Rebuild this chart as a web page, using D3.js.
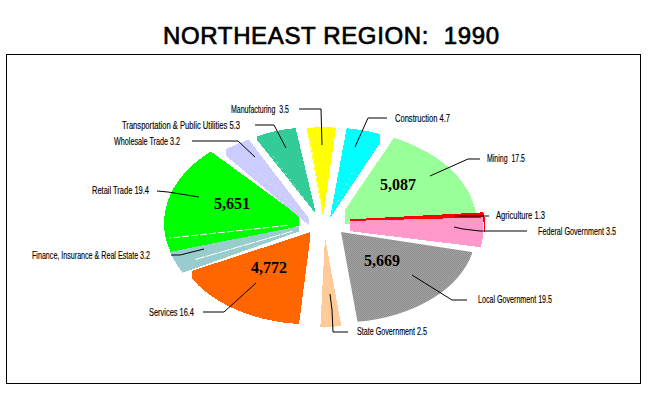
<!DOCTYPE html>
<html>
<head>
<meta charset="utf-8">
<script src="https://cdn.jsdelivr.net/npm/d3@7"></script>
<style>
  html, body { margin: 0; padding: 0; background: #fff; }
  svg { display: block; }
  text { white-space: pre; }
</style>
</head>
<body>
<svg id="chart" width="650" height="400"></svg>
<script>
var categories = ["Mining", "Agriculture", "Federal Government", "Local Government", "State Government",
    "Services", "Finance, Insurance & Real Estate", "Retail Trade", "Wholesale Trade",
    "Transportation & Public Utilities", "Manufacturing", "Construction"];
var shares = [17.5, 1.3, 3.5, 19.5, 2.5, 16.4, 3.2, 19.4, 3.2, 5.3, 3.5, 4.7];
var shareLabels = ["17.5", "1.3", "3.5", "19.5", "2.5", "16.4", "3.2", "19.4", "3.2", "5.3", "3.5", "4.7"];
var amountCategories = ["Mining", "Local Government", "Services", "Retail Trade"];
var amountLabels = ["5,087", "5,669", "4,772", "5,651"];

var colors = ["#99ff99", "#ff0000", "#ff99cc", "url(#dither)", "#ffcc99", "#ff6600", "#99cccc", "#00ff00",
    "#ccccff", "#33cc99", "#ffff00", "#00ffff"];

// each slice was pulled out by hand in the original, so each has its own apex, radius and trim
var explode = [
    {x: 335, y: 224.5, r: 142, turn: 2, min: 345, max: 480},
    {x: 300, y: 222, r: 184, turn: 0, min: 350, max: 484},
    {x: 281, y: 222.7, r: 203, turn: -2.4, min: 350, max: 483},
    {x: 341, y: 232, r: 135, turn: 0, min: 0, max: 472},
    {x: 325, y: 237, r: 134, turn: 0, min: 0, max: 650},
    {x: 311, y: 232, r: 138, turn: 3, min: 192, max: 310},
    {x: 331, y: 220, r: 168, turn: 1, min: 0, max: 299},
    {x: 309, y: 223, r: 145, turn: -5, min: 0, max: 299},
    {x: 324, y: 238, r: 165, turn: -1, min: 226, max: 309},
    {x: 316, y: 214, r: 130, turn: -2, min: 257, max: 315},
    {x: 323, y: 217, r: 134, turn: 0, min: 0, max: 650},
    {x: 330, y: 218, r: 135, turn: 1.5, min: 0, max: 380}
];
var drawOrder = [0, 3, 1, 2, 4, 5, 7, 6, 9, 8, 10, 11];
var squash = 0.67;

// white hairlines left inside some slices: slice, position across it, start and end along the radius
var seams = [
    {slice: 7, across: 0.19, from: 0.15, to: 0.97, dash: "7 2"},
    {slice: 6, across: 0.39, from: 0.25, to: 0.88, dash: "12 1"},
    {slice: 9, across: 0.08, from: 0.15, to: 0.79, dash: "1 6"},
    {slice: 8, across: 0.42, from: 0.15, to: 0.70, dash: "1 6"},
    {slice: 10, across: 0.04, from: 0.10, to: 0.85, dash: "3 3"},
    {slice: 11, across: 0.65, from: 0.20, to: 0.55, dash: "1 5"}
];

var labelBoxes = [
    {x: 487, w: 38, y: 162},
    {x: 496, w: 49, y: 219},
    {x: 538, w: 78, y: 235},
    {x: 478, w: 74, y: 303},
    {x: 357, w: 70, y: 335},
    {x: 149, w: 45, y: 316},
    {x: 32, w: 118, y: 259},
    {x: 92, w: 57, y: 194},
    {x: 114, w: 66, y: 145},
    {x: 122, w: 118, y: 129},
    {x: 231, w: 58, y: 113},
    {x: 395, w: 55, y: 122}
];
var leaders = [
    [[430, 176], [468, 159], [480, 159]],
    [[455, 216], [489, 216]],
    [[454, 227], [463, 229], [480, 231], [527, 231]],
    [[412, 275], [452, 300], [467, 300]],
    [[330, 294], [332, 310], [333, 332], [348, 332]],
    [[203, 312], [224, 312], [256, 283]],
    [[171, 255], [180, 255], [204, 249]],
    [[157, 191], [168, 192], [199, 197]],
    [[192, 141], [238, 141], [255, 157]],
    [[255, 125], [274, 125], [286, 148]],
    [[299, 109], [321, 109], [322, 145]],
    [[355, 147], [368, 118], [387, 118]]
];
var amountPos = [
    {x: 398, y: 190},
    {x: 382, y: 266},
    {x: 269, y: 273},
    {x: 232, y: 209}
];

var svg = d3.select("#chart");
var defs = svg.append("defs");

var dither = defs.append("pattern")
    .attr("id", "dither")
    .attr("patternUnits", "userSpaceOnUse")
    .attr("width", 2)
    .attr("height", 2);
dither.append("rect").attr("width", 2).attr("height", 2).attr("fill", "#a4a4a4");
dither.append("rect").attr("width", 1).attr("height", 1).attr("fill", "#8c8c8c");
dither.append("rect").attr("x", 1).attr("y", 1).attr("width", 1).attr("height", 1).attr("fill", "#8c8c8c");

svg.append("text")
    .attr("x", 163)
    .attr("y", 44)
    .attr("textLength", 336)
    .attr("lengthAdjust", "spacing")
    .style("font-family", "'Liberation Sans', Arial, sans-serif")
    .style("font-size", "24px")
    .style("font-weight", "400")
    .style("stroke", "#000")
    .style("stroke-width", "0.7px")
    .text("NORTHEAST REGION:  1990");

svg.append("rect")
    .attr("x", 6.5)
    .attr("y", 54.5)
    .attr("width", 634)
    .attr("height", 329)
    .attr("fill", "#fff")
    .attr("stroke", "#000")
    .attr("stroke-width", 1);

var pie = d3.pie()
    .sort(null)
    .startAngle(22.5 * Math.PI / 180)
    .endAngle(382.5 * Math.PI / 180);
var slices = pie(shares);

function turned(i) {
    var turn = explode[i].turn * Math.PI / 180;
    return {start: slices[i].startAngle + turn, end: slices[i].endAngle + turn};
}

var chart = svg.append("g");

drawOrder.forEach(function(i) {
    var e = explode[i];
    var a = turned(i);

    defs.append("clipPath")
        .attr("id", "trim" + i)
        .append("rect")
        .attr("x", e.min)
        .attr("y", 0)
        .attr("width", e.max - e.min)
        .attr("height", 400);

    var arc = d3.arc()
        .innerRadius(0)
        .outerRadius(e.r)
        .startAngle(a.start)
        .endAngle(a.end);
    var place = "translate(" + e.x + "," + e.y + ") scale(1," + squash + ")";
    var holder = chart.append("g").attr("clip-path", "url(#trim" + i + ")");

    if (colors[i] == "url(#dither)") {
        // a pattern on the squashed path would squash too, so fill a plain rect through the slice shape
        defs.append("clipPath")
            .attr("id", "shape" + i)
            .append("path")
            .attr("d", arc())
            .attr("transform", place);
        holder.append("rect")
            .attr("width", 650)
            .attr("height", 400)
            .attr("clip-path", "url(#shape" + i + ")")
            .attr("fill", colors[i]);
    } else {
        holder.append("path")
            .attr("d", arc())
            .attr("transform", place)
            .attr("fill", colors[i])
            .attr("shape-rendering", "crispEdges");
    }
});

seams.forEach(function(s) {
    var e = explode[s.slice];
    var a = turned(s.slice);
    var angle = a.start + (a.end - a.start) * s.across;
    var point = function(f) {
        return [e.x + Math.sin(angle) * e.r * f, e.y - Math.cos(angle) * e.r * f * squash];
    };
    chart.append("path")
        .attr("d", d3.line()([point(s.from), point(s.to)]))
        .attr("stroke", "#fff")
        .attr("stroke-width", 1)
        .attr("stroke-dasharray", s.dash)
        .attr("fill", "none");
});

// thin red edge that runs down the end of the federal slice
chart.append("path")
    .attr("d", d3.line()([[484.5, 217], [484.5, 232]]))
    .attr("stroke", "#ff0000")
    .attr("fill", "none");

chart.selectAll(".leader")
    .data(leaders)
    .enter().append("path")
    .attr("class", "leader")
    .attr("d", function(d) { return d3.line()(d); })
    .attr("fill", "none")
    .attr("stroke", "#000")
    .attr("stroke-width", 1);

chart.selectAll(".label")
    .data(categories)
    .enter().append("text")
    .attr("class", "label")
    .attr("x", function(d, i) { return labelBoxes[i].x; })
    .attr("y", function(d, i) { return labelBoxes[i].y; })
    .attr("textLength", function(d, i) { return labelBoxes[i].w; })
    .attr("lengthAdjust", "spacingAndGlyphs")
    .style("font-family", "'Liberation Sans Narrow', 'Liberation Sans', sans-serif")
    .style("font-size", "11px")
    .style("stroke", "#000")
    .style("stroke-width", "0.15px")
    .text(function(d, i) {
        var gap = (d == "Mining" || d == "Manufacturing") ? "  " : " ";
        return d + gap + shareLabels[i];
    });

chart.selectAll(".amount")
    .data(amountLabels)
    .enter().append("text")
    .attr("class", "amount")
    .attr("x", function(d, i) { return amountPos[i].x; })
    .attr("y", function(d, i) { return amountPos[i].y; })
    .attr("text-anchor", "middle")
    .attr("data-category", function(d, i) { return amountCategories[i]; })
    .style("font-family", "'Liberation Serif', 'Times New Roman', serif")
    .style("font-size", "16px")
    .style("font-weight", "700")
    .text(function(d) { return d; });
</script>
</body>
</html>
